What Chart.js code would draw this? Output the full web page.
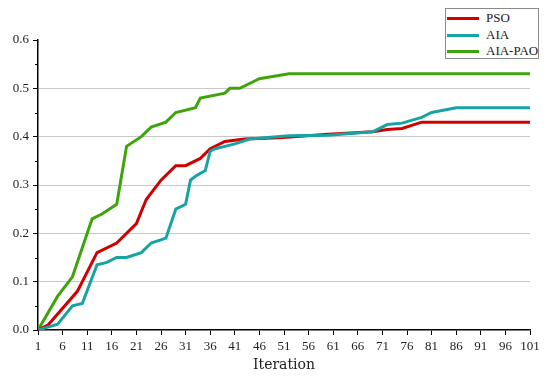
<!DOCTYPE html>
<html>
<head>
<meta charset="utf-8">
<script src="https://cdn.jsdelivr.net/npm/chart.js@4/dist/chart.umd.min.js"></script>
<style>
  html, body { margin: 0; padding: 0; background: #fff; }
  #wrap { position: relative; width: 550px; height: 380px; }
  #legend { position: absolute; left: 445px; top: 8px; width: 94px; height: 51px;
    border: 1px solid #8a8a8a; background: #fff; box-sizing: border-box;
    font-family: "Liberation Serif", serif; font-size: 13px; color: #222; }
  .item { position: absolute; left: 0; height: 16px; width: 94px; }
  .swatch { position: absolute; left: 1px; top: 7px; width: 32px; height: 3px; }
  .lbl { position: absolute; left: 40px; top: 0; line-height: 16px; }
</style>
</head>
<body>
<div id="wrap">
  <canvas id="c" width="550" height="380"></canvas>
  <div id="legend"></div>
</div>
<script>
const seriesNames = ["PSO", "AIA", "AIA-PAO"];
const seriesColors = ["#D00000", "#18A3A3", "#3FA40C"];

const psoIter   = [1, 3, 9, 13, 17, 21, 23, 26, 29, 31, 34, 36, 39, 43, 50, 60, 69, 72, 75, 79, 101];
const psoValues = [0, 0.01, 0.08, 0.16, 0.18, 0.22, 0.27, 0.31, 0.34, 0.34, 0.355, 0.375, 0.39, 0.395, 0.398, 0.405, 0.41, 0.415, 0.417, 0.43, 0.43];

const aiaIter   = [1, 5, 8, 10, 13, 15, 17, 19, 22, 24, 27, 29, 31, 32, 33, 35, 36, 37, 39, 41, 44, 52, 60, 69, 72, 75, 79, 81, 86, 101];
const aiaValues = [0, 0.012, 0.05, 0.055, 0.135, 0.14, 0.15, 0.15, 0.16, 0.18, 0.19, 0.25, 0.26, 0.31, 0.318, 0.33, 0.37, 0.375, 0.38, 0.385, 0.395, 0.402, 0.403, 0.41, 0.425, 0.428, 0.44, 0.45, 0.46, 0.46];

const paoIter   = [1, 5, 8, 12, 14, 17, 19, 22, 24, 27, 29, 33, 34, 39, 40, 42, 44, 46, 52, 101];
const paoValues = [0, 0.07, 0.11, 0.23, 0.24, 0.26, 0.38, 0.40, 0.42, 0.43, 0.45, 0.46, 0.48, 0.49, 0.50, 0.50, 0.51, 0.52, 0.53, 0.53];

const xTicks = [1, 6, 11, 16, 21, 26, 31, 36, 41, 46, 51, 56, 61, 66, 71, 76, 81, 86, 91, 96, 101];
const yTicks = [0, 0.1, 0.2, 0.3, 0.4, 0.5, 0.6];
const yMinorTicks = [0.05, 0.15, 0.25, 0.35, 0.45, 0.55];

function pts(xs, ys) { return xs.map((x, i) => ({ x: x, y: ys[i] })); }

const datasets = [
  { label: seriesNames[0], data: pts(psoIter, psoValues), borderColor: seriesColors[0], order: 1 },
  { label: seriesNames[1], data: pts(aiaIter, aiaValues), borderColor: seriesColors[1], order: 0 },
  { label: seriesNames[2], data: pts(paoIter, paoValues), borderColor: seriesColors[2], order: 2 }
].map(d => Object.assign(d, { borderWidth: 3, pointRadius: 0, tension: 0, fill: false, borderJoinStyle: 'miter' }));

const minorTickPlugin = {
  id: 'minorTicks',
  afterDraw(chart) {
    const y = chart.scales.y, ctx = chart.ctx;
    ctx.save();
    ctx.strokeStyle = '#000';
    ctx.lineWidth = 1;
    yMinorTicks.forEach(v => {
      const py = Math.round(y.getPixelForValue(v)) + 0.5;
      ctx.beginPath();
      ctx.moveTo(y.right - 3, py);
      ctx.lineTo(y.right, py);
      ctx.stroke();
    });
    ctx.restore();
  }
};

const FONT = "'Liberation Serif', serif";

new Chart(document.getElementById('c'), {
  type: 'line',
  data: { datasets: datasets },
  options: {
    responsive: false,
    animation: false,
    layout: { padding: { left: 0, top: 40, right: 20, bottom: 0 } },
    plugins: { legend: { display: false }, tooltip: { enabled: false } },
    scales: {
      x: {
        type: 'linear', min: 1, max: 101,
        afterBuildTicks: s => { s.ticks = xTicks.map(v => ({ value: v })); },
        afterFit: s => { s.height = 50; },
        grid: { drawOnChartArea: false, drawTicks: true, tickLength: 5, color: '#000', lineWidth: 1 },
        border: { color: '#000', width: 1.5 },
        ticks: { color: '#222', font: { family: FONT, size: 13 }, padding: 4, maxRotation: 0, autoSkip: false },
        title: { display: true, text: 'Iteration', color: '#222', font: { family: "'DejaVu Serif', serif", size: 14 }, padding: { top: 2, bottom: 6 } }
      },
      y: {
        type: 'linear', min: 0, max: 0.6,
        afterBuildTicks: s => { s.ticks = yTicks.map(v => ({ value: v })); },
        afterFit: s => { s.width = 38; },
        grid: {
          drawTicks: true, tickLength: 5,
          color: c => (c.tick && c.tick.value > 0.01 && c.tick.value < 0.59) ? '#C8C8C8' : 'rgba(0,0,0,0)',
          tickColor: '#000', lineWidth: 1
        },
        border: { color: '#000', width: 1.5 },
        ticks: { color: '#222', font: { family: FONT, size: 13 }, padding: 4, callback: v => v.toFixed(1) }
      }
    }
  },
  plugins: [minorTickPlugin]
});

const legend = document.getElementById('legend');
seriesNames.forEach((n, i) => {
  const it = document.createElement('div');
  it.className = 'item';
  it.style.top = (1 + i * 16.5) + 'px';
  const sw = document.createElement('div');
  sw.className = 'swatch';
  sw.style.background = seriesColors[i];
  const lb = document.createElement('div');
  lb.className = 'lbl';
  lb.textContent = n;
  it.appendChild(sw); it.appendChild(lb);
  legend.appendChild(it);
});
</script>
</body>
</html>
